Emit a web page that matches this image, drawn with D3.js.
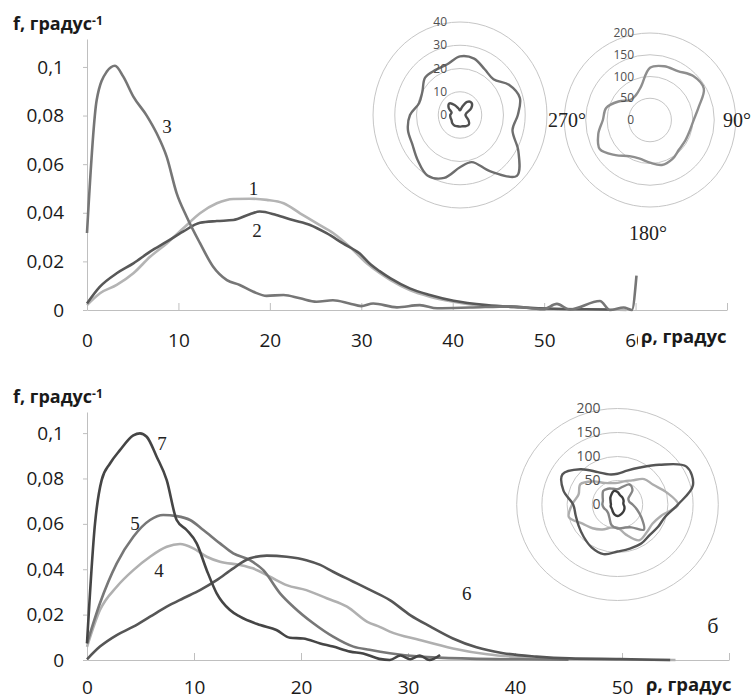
<!DOCTYPE html>
<html>
<head>
<meta charset="utf-8">
<script src="https://cdn.jsdelivr.net/npm/d3@7"></script>
<style>
    body {margin: 0; background: #fff;}
    svg {display: block;}
</style>
</head>
<body>
<div id="chart"></div>
<script>
// ---- data ----
const yTicks = [0, 0.02, 0.04, 0.06, 0.08, 0.1];
const xTicksTop = [0, 10, 20, 30, 40, 50, 60, 70];
const xTicksBottom = [0, 10, 20, 30, 40, 50, 60];

// top panel, [rho, f]
const curve1 = [[0, 0.002], [1.42, 0.0069], [3.25, 0.0103], [5.07, 0.0151], [6.9, 0.0219], [8.72, 0.0274],
    [10.5, 0.0335], [12.36, 0.0398], [14.2, 0.0439], [16, 0.0457], [17.8, 0.0458], [19.66, 0.0453],
    [21.5, 0.0439], [23.3, 0.0398], [25.1, 0.0357], [26.95, 0.0316], [28.8, 0.0258], [30.6, 0.0192],
    [32, 0.0152], [33.2, 0.0123], [35.3, 0.0082], [37.5, 0.0055], [40.1, 0.0034], [43.7, 0.0016],
    [46, 0.0014], [47.4, 0.001], [51, 0.0004], [56.5, 0.0002], [59, 0]];
const curve2 = [[0, 0.0027], [1.42, 0.0096], [3.25, 0.0151], [5.07, 0.0192], [6.9, 0.024], [8.72, 0.0281],
    [10.5, 0.0322], [12.36, 0.0359], [14.2, 0.0366], [16, 0.037], [17.8, 0.0394], [18.9, 0.0405],
    [20.7, 0.0391], [22.5, 0.037], [24.4, 0.035], [26.2, 0.0316], [28, 0.0274], [29.8, 0.0233],
    [31, 0.0188], [32, 0.016], [33.2, 0.013], [35.3, 0.0089], [37.5, 0.0062], [40.1, 0.0038],
    [43.7, 0.002], [47.4, 0.0011], [51, 0.0005], [54.6, 0.0003], [57.1, 0.0002]];
const curve3 = [[0, 0.0317], [1.06, 0.0864], [2.15, 0.098], [3.06, 0.1005], [3.97, 0.096], [5.07, 0.0878],
    [6.53, 0.08], [7.62, 0.0727], [8.72, 0.063], [9.81, 0.048], [10.9, 0.0384], [12.36, 0.0275],
    [13.8, 0.0178], [15.3, 0.0123], [16.7, 0.0103], [18.2, 0.0075], [19.65, 0.0058], [21.5, 0.0062],
    [23.3, 0.0048], [25.1, 0.0034], [26.9, 0.004], [28.7, 0.0027], [30, 0.0016], [31.3, 0.0027],
    [33.9, 0.0011], [36.4, 0.002], [38.3, 0.0007], [41.9, 0.001], [46.3, 0.0015], [49.9, 0.0003],
    [51.4, 0.0025], [52.8, 0.0002], [56.1, 0.0037], [57.2, 0], [58.7, 0.001], [59.6, 0], [60.1, 0.0141]];

// bottom panel
const curve4 = [[0, 0.0058], [1.21, 0.022], [2.78, 0.0323], [4.33, 0.0396], [5.89, 0.0455], [7.45, 0.0499],
    [8.7, 0.0511], [9.94, 0.0492], [11.19, 0.0455], [12.43, 0.0433], [14.3, 0.0419], [15.5, 0.0404],
    [17.1, 0.0367], [18.66, 0.033], [20.5, 0.0308], [22.4, 0.0272], [24.3, 0.0235], [26.2, 0.0168],
    [27.4, 0.0145], [28.3, 0.0125], [31.1, 0.0088], [34.2, 0.0051], [37.4, 0.0025], [40.5, 0.0012],
    [43.6, 0.0006], [50, 0.0002], [55, 0]];
const curve5 = [[0, 0.0073], [1.21, 0.025], [2.78, 0.0426], [4.33, 0.0543], [5.89, 0.0617], [7.13, 0.0639],
    [8.38, 0.0634], [9.63, 0.0617], [10.87, 0.0573], [12.43, 0.0514], [13.67, 0.047], [15.23, 0.044],
    [16.48, 0.0396], [18.04, 0.0294], [19.28, 0.0235], [21.15, 0.0162], [23, 0.0103], [24.9, 0.0059],
    [26.4, 0.0045], [28.3, 0.003], [31.1, 0.0015], [35.8, 0.0006], [40.5, 0.0003], [45, 0.0001]];
const curve6 = [[0, 0.0003], [1.21, 0.0059], [2.78, 0.011], [4.33, 0.0147], [5.89, 0.0191], [7.45, 0.0235],
    [9, 0.0272], [10.56, 0.0308], [12.12, 0.0352], [13.67, 0.0404], [15.23, 0.0448], [16.8, 0.046],
    [18.66, 0.0455], [20.5, 0.044], [21.8, 0.0419], [23, 0.0389], [24.9, 0.0345], [26.4, 0.031],
    [28.3, 0.0264], [30.2, 0.0198], [32.1, 0.0147], [34.2, 0.0095], [36.4, 0.0056], [38.9, 0.003],
    [42, 0.0015], [45.1, 0.0007], [49.8, 0.0004], [54.5, 0]];
const curve7 = [[0, 0.0073], [0.75, 0.0602], [1.37, 0.0793], [2.15, 0.0866], [3.08, 0.0925], [4.33, 0.099],
    [4.95, 0.0999], [5.58, 0.0984], [6.51, 0.0896], [7.45, 0.0793], [8.38, 0.0617], [9.31, 0.0573],
    [10.25, 0.0514], [11.19, 0.0396], [12.12, 0.0294], [13.36, 0.022], [14.3, 0.0191], [16.2, 0.0154],
    [17.7, 0.0132], [18.97, 0.0098], [20.2, 0.0095], [21.8, 0.0073], [23, 0.0059], [24.6, 0.0037],
    [25.8, 0.0029], [27.3, 0.0005], [28.3, 0], [29.3, 0.002], [30.2, 0.0003], [31.1, 0.002], [32, 0],
    [33, 0.0022]];

// polar insets, value per direction (degrees, clockwise from top)
const polarAngles = [0, 15, 30, 45, 60, 75, 90, 105, 120, 135, 150, 165, 180, 195, 210, 225, 240, 255, 270, 285, 300, 315, 330, 345];
const polarA1 = [25.2, 25.1, 22.7, 21.8, 26, 28.5, 26.6, 25, 31, 37, 28, 21, 22.5, 28, 30, 27.5, 25.3, 24.8, 23, 19.5, 20, 22.7, 22.4, 22.6];
const polarA2 = [2, 3.5, 6.5, 7.5, 6, 3, 2.5, 3, 4.5, 5.8, 5.5, 5, 5, 5, 5.2, 5, 4.5, 4.5, 4.5, 4, 6, 7, 5, 3];
const polarB1 = [120, 128, 130, 143, 145, 118, 102, 96, 95, 96, 104, 107, 98, 92, 96, 114, 135, 125, 110, 106, 85, 65, 66, 80];
const polarC1 = [64, 73, 89, 117, 158, 155, 120, 98, 93, 90, 94, 95, 98, 107, 103, 95, 89, 86, 88, 111, 126, 104, 78, 65];
const polarC2 = [45, 50, 58, 75, 82, 100, 120, 90, 80, 82, 86, 65, 48, 50, 60, 70, 80, 100, 90, 80, 85, 68, 52, 46];
const polarC3 = [32, 38, 48, 42, 25, 24, 30, 40, 55, 74, 55, 50, 50, 45, 32, 26, 25, 28, 30, 30, 34, 40, 38, 34];
const polarC4 = [26, 20, 18, 16, 14, 12, 12, 14, 16, 18, 20, 22, 24, 22, 18, 15, 14, 14, 13, 14, 16, 20, 24, 29];
const ringsA = [0, 10, 20, 30, 40];
const ringsB = [0, 50, 100, 150, 200];

const W = 752, H = 700;
const axisColor = "#bfbfbf";
const sans = "'Open Sans', sans-serif";
const serif = "'Liberation Serif', 'Times New Roman', serif";

const fmtComma = d => d === 0 ? "0" : String(d).replace(".", ",");

const svg = d3.select("#chart")
    .append("svg")
    .attr("width", W)
    .attr("height", H);

function drawPanel(p) {
    const x = d3.scaleLinear().domain(p.xDomain).range([87, p.xEnd]);
    const y = d3.scaleLinear().domain([0, p.yTop]).range([p.y0, p.yAxisTop]);
    const g = svg.append("g");

    // labels under the axis title are covered in the original, so they stay empty
    const xAxis = d3.axisBottom(x)
        .tickValues(p.xTicks)
        .tickSize(-7)
        .tickSizeOuter(0)
        .tickPadding(p.tickPad)
        .tickFormat(d => d > p.lastLabel ? "" : d3.format("d")(d));
    const yAxis = d3.axisLeft(y)
        .tickValues(yTicks)
        .tickSize(4)
        .tickSizeOuter(0)
        .tickPadding(19)
        .tickFormat(fmtComma);

    g.append("g").attr("transform", "translate(0," + p.y0 + ")").call(xAxis);
    g.append("g").attr("transform", "translate(87,0)").call(yAxis);
    g.selectAll(".domain, .tick line").attr("stroke", axisColor);
    g.selectAll(".tick text")
        .attr("font-family", sans)
        .attr("font-size", 19)
        .attr("fill", "#1a1a1a");

    const line = d3.line()
        .x(d => x(d[0]))
        .y(d => y(d[1]))
        .curve(d3.curveMonotoneX);

    g.append("g")
        .selectAll("path")
        .data(p.series)
        .enter().append("path")
        .attr("d", d => line(d.values))
        .attr("fill", "none")
        .attr("stroke", d => d.color)
        .attr("stroke-width", 2.6)
        .attr("stroke-linejoin", "round");

    // numbers next to the curves
    g.append("g")
        .selectAll("text")
        .data(p.labels)
        .enter().append("text")
        .attr("x", d => x(d.at[0]))
        .attr("y", d => y(d.at[1]))
        .attr("dy", "0.35em")
        .attr("text-anchor", "middle")
        .attr("font-family", serif)
        .attr("font-size", d => d.size || 19)
        .attr("fill", "#222")
        .text(d => d.text);

    // x title on a white box (it clips the "60" label like the original)
    g.append("rect")
        .attr("x", p.xTitleX - 3).attr("y", p.y0 + 16)
        .attr("width", W - p.xTitleX + 3).attr("height", 30)
        .attr("fill", "#fff");
    g.append("text")
        .attr("x", p.xTitleX).attr("y", p.y0 + p.xTitleDy)
        .attr("font-family", sans).attr("font-weight", "bold").attr("font-size", 18.5)
        .attr("fill", "#1a1a1a")
        .text("ρ, градус");

    const yt = g.append("text")
        .attr("x", 13).attr("y", p.yAxisTop - 9)
        .attr("font-family", sans).attr("font-weight", "bold").attr("font-size", 18)
        .attr("fill", "#1a1a1a");
    yt.append("tspan").text("f, градус");
    yt.append("tspan").attr("dy", "-0.45em").attr("font-size", 12).text("-1");
}

function drawPolar(c) {
    const r = d3.scaleLinear().domain([0, c.max]).range([0, c.ry]);
    const g = svg.append("g").attr("transform", "translate(" + c.cx + "," + c.cy + ")");
    const rad = a => a * Math.PI / 180;

    g.append("g")
        .selectAll("ellipse")
        .data(c.rings.filter(v => v > 0))
        .enter().append("ellipse")
        .attr("rx", v => r(v) * c.sx)
        .attr("ry", v => r(v))
        .attr("fill", "none")
        .attr("stroke", "#c6c6c6")
        .attr("stroke-width", 1);

    const line = d3.line()
        .x((v, i) => r(v) * c.sx * Math.sin(rad(polarAngles[i])))
        .y((v, i) => -r(v) * Math.cos(rad(polarAngles[i])))
        .curve(d3.curveCatmullRomClosed.alpha(0.5));

    g.append("g")
        .selectAll("path")
        .data(c.series)
        .enter().append("path")
        .attr("d", d => line(d.values))
        .attr("fill", "none")
        .attr("stroke", d => d.color)
        .attr("stroke-width", 2.4)
        .attr("stroke-linejoin", "round");

    g.append("g")
        .selectAll("text")
        .data(c.rings)
        .enter().append("text")
        .attr("x", -c.labelOffset)
        .attr("y", v => -r(v))
        .attr("dy", "0.35em")
        .attr("text-anchor", "end")
        .attr("font-family", sans)
        .attr("font-size", c.labelSize)
        .attr("fill", "#505050")
        .text(v => v);

    if (c.dirs) {
        g.append("g")
            .selectAll("text")
            .data(c.dirs)
            .enter().append("text")
            .attr("x", d => d.dx)
            .attr("y", d => d.dy)
            .attr("text-anchor", "middle")
            .attr("font-family", serif)
            .attr("font-size", 20)
            .attr("fill", "#222")
            .text(d => d.text);
    }
}

drawPanel({
    xDomain: [0, 70], xEnd: 727, xTicks: xTicksTop, tickPad: 24, lastLabel: 60,
    y0: 310, yTop: 0.1115, yAxisTop: 39,
    xTitleX: 641, xTitleDy: 33,
    series: [
        {values: curve1, color: "#b4b4b4"},
        {values: curve2, color: "#585858"},
        {values: curve3, color: "#767676"}
    ],
    labels: [
        {text: "1", at: [18.2, 0.0502]},
        {text: "2", at: [18.6, 0.0329]},
        {text: "3", at: [8.75, 0.0757]}
    ]
});

drawPanel({
    xDomain: [0, 60], xEnd: 729, xTicks: xTicksBottom, tickPad: 21, lastLabel: 50,
    y0: 660, yTop: 0.1093, yAxisTop: 412,
    xTitleX: 646, xTitleDy: 31,
    series: [
        {values: curve4, color: "#b0b0b0"},
        {values: curve5, color: "#777777"},
        {values: curve6, color: "#565656"},
        {values: curve7, color: "#454545"}
    ],
    labels: [
        {text: "7", at: [7.0, 0.0956]},
        {text: "5", at: [4.49, 0.0604]},
        {text: "4", at: [6.73, 0.0396]},
        {text: "6", at: [35.5, 0.0295]},
        {text: "б", at: [58.5, 0.0154], size: 22}
    ]
});

drawPolar({
    cx: 460, cy: 115, ry: 93, sx: 0.935, max: 40, rings: ringsA, labelOffset: 13, labelSize: 12,
    series: [
        {values: polarA1, color: "#6e6e6e"},
        {values: polarA2, color: "#505050"}
    ]
});

drawPolar({
    cx: 650, cy: 120, ry: 87, sx: 0.985, max: 200, rings: ringsB, labelOffset: 16, labelSize: 12,
    series: [
        {values: polarB1, color: "#8e8e8e"}
    ],
    dirs: [
        {text: "270°", dx: -83, dy: 7},
        {text: "90°", dx: 87, dy: 7},
        {text: "180°", dx: -2, dy: 120}
    ]
});

drawPolar({
    cx: 617.5, cy: 504.5, ry: 96, sx: 1.05, max: 200, rings: ringsB, labelOffset: 17, labelSize: 14,
    series: [
        {values: polarC2, color: "#adadad"},
        {values: polarC3, color: "#858585"},
        {values: polarC1, color: "#555555"},
        {values: polarC4, color: "#3c3c3c"}
    ]
});
</script>
</body>
</html>
